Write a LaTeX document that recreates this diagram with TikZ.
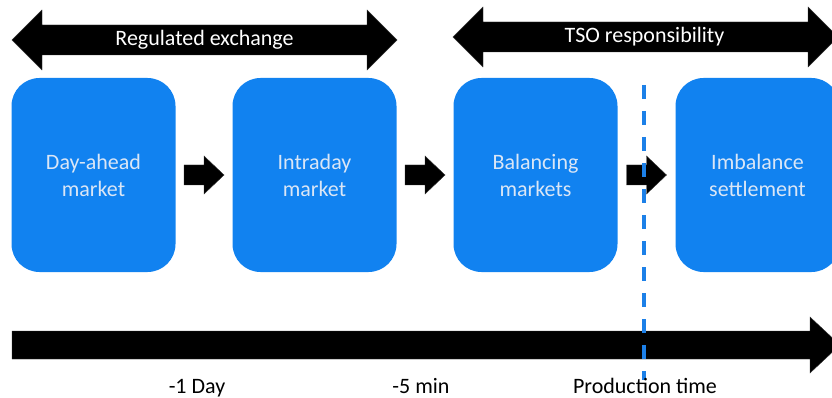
\documentclass[tikz,border=0pt]{standalone}
\usepackage{fontspec}
\setmainfont{Carlito}
\usetikzlibrary{calc}
\definecolor{boxblue}{RGB}{17,130,240}
\definecolor{boxtext}{RGB}{218,230,246}
\definecolor{dashblue}{RGB}{28,128,232}
\tikzset{
  mbox/.style={draw=none, fill=boxblue, rounded corners=28pt, minimum width=164pt,
    minimum height=194pt, text=boxtext, align=center, inner sep=0pt,
    font=\fontsize{22}{27}\selectfont},
  blockarrow/.style={fill=black, draw=black!80, line width=0.4pt},
  toplabel/.style={text=white, font=\fontsize{22}{26}\selectfont, inner sep=0pt},
  timelabel/.style={text=black, font=\fontsize{22}{26}\selectfont, inner sep=0pt, anchor=base},
  dashline/.style={draw=dashblue, line width=3.5pt, dash pattern=on 14pt off 12pt}
}
\begin{document}
\begin{tikzpicture}[x=1pt, y=-1pt]
\useasboundingbox (0,0) rectangle (832,398);
\clip (0,0) rectangle (832,398);
% top double arrows
\fill[blockarrow] (12,40) -- (42,10) -- (42,25) -- (367,25) -- (367,10) -- (397,40)
  -- (367,70) -- (367,55) -- (42,55) -- (42,70) -- cycle;
\node[toplabel] (reg) at (204.5,40) {Regulated exchange};
\fill[blockarrow] (453,37) -- (483,7) -- (483,22) -- (808,22) -- (808,7) -- (838,37)
  -- (808,67) -- (808,52) -- (483,52) -- (483,67) -- cycle;
\node[toplabel] (tso) at (644.5,37) {TSO responsibility};
% boxes
\node[mbox] (b1) at (93.5,175) {Day-ahead\\market};
\node[mbox] (b2) at (314.5,175) {Intraday\\market};
\node[mbox] (b3) at (535.5,175) {Balancing\\markets};
\node[mbox] (b4) at (757.5,175) {Imbalance\\settlement};
% small block arrows between boxes
\foreach \a/\b/\n in {b1/b2/m12, b2/b3/m23, b3/b4/m34}{
  \path (\a.east) -- (\b.west) coordinate[pos=0.5] (\n);
  \fill[blockarrow] ($(\n)+(-20,-10)$) -- ($(\n)+(0,-10)$) -- ($(\n)+(0,-19)$)
    -- ($(\n)+(20,0)$) -- ($(\n)+(0,19)$) -- ($(\n)+(0,10)$) -- ($(\n)+(-20,10)$) -- cycle;
}
% timeline arrow
\fill[blockarrow] (12,331) -- (810,331) -- (810,317) -- (840,345) -- (810,373)
  -- (810,359) -- (12,359) -- cycle;
% dashed production-time line
\coordinate (dtop) at (644,85);
\coordinate (dbot) at (644,380);
\draw[dashline] (dtop) -- (dbot);
% time labels
\node[timelabel] (t1) at (197,393) {-1 Day};
\node[timelabel] (t2) at (421,393) {-5 min};
\node[timelabel] (t3) at (645,393) {Production time};
\end{tikzpicture}
\end{document}
